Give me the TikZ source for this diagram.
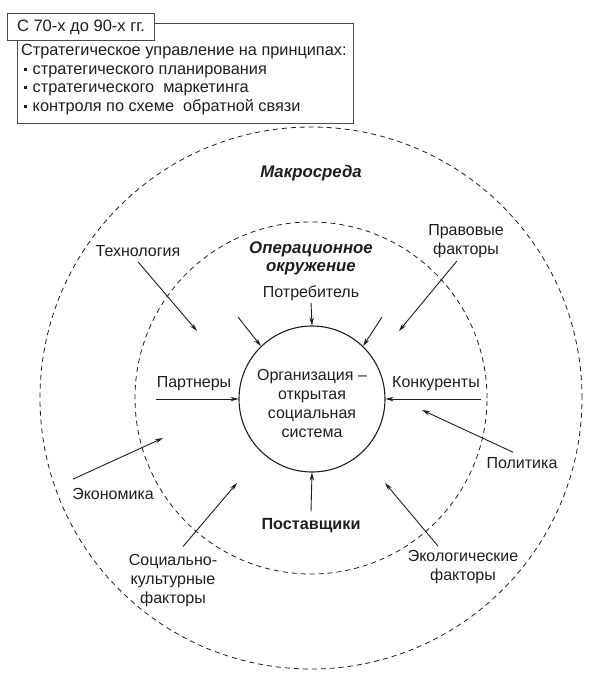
\documentclass[tikz,border=0pt]{standalone}
\usepackage{fontspec}
\setmainfont{Liberation Sans}
\usetikzlibrary{arrows.meta}
\definecolor{ink}{HTML}{1E1E1E}
\definecolor{rim}{HTML}{4A4A4A}
\newcommand\bul{\hspace*{2.5pt}\rule[3.5pt]{3pt}{3pt}\hspace{6pt}}

\begin{document}
\begin{tikzpicture}[
  x=1pt,y=-1pt,
  lbl/.style={font=\fontsize{16}{19}\selectfont,text=ink,align=center,inner sep=1pt},
  head/.style={lbl,font=\fontsize{16.8}{18}\selectfont\bfseries\itshape},
  ring/.style={circle,draw=ink,dash pattern=on 5pt off 4pt,line width=0.8pt,inner sep=0pt},
  core/.style={circle,draw=ink,line width=1.1pt,minimum size=146pt,inner sep=0pt,align=center,text=ink,font=\fontsize{16}{19}\selectfont},
  frame/.style={draw=rim,line width=1pt,inner sep=0pt},
  arr/.style={-{Stealth[length=8pt,width=4.5pt]},line width=0.9pt,ink}
]
  \useasboundingbox (0,0) rectangle (590,678);
  \node[frame,anchor=north west,minimum width=336pt,minimum height=100pt] (box) at (17,23) {};
  \node[anchor=north west,align=left,inner sep=0pt,text=ink,font=\fontsize{16.3}{18.6}\selectfont] (princ) at ([xshift=4pt,yshift=-21pt]box.north west)
    {Стратегическое управление на принципах:\\
     \bul стратегического планирования\\
     \bul стратегического\ \ маркетинга\\
     \bul контроля по схеме\ \ обратной связи};
  \node[frame,fill=white,anchor=north west,minimum width=147pt,minimum height=27pt,text=ink,font=\fontsize{16.5}{18}\selectfont] (period) at (7,13) {С 70-х до 90-х гг.};

  \node[ring,minimum size=542pt] (macro-ring) at (311,398) {};
  \node[ring,minimum size=352pt] (oper-ring) at (311,398) {};
  \node[core] (org) at (312,399) {\rule{0pt}{20pt}Организация --\\открытая\\социальная\\система};

  \node[head] (macro) at (311,173) {Макросреда};
  \node[head] (oper) at (311,258) {Операционное\\окружение};
  \node[lbl] (potr) at (311,293) {Потребитель};
  \node[lbl] (partn) at (194,384) {Партнеры};
  \node[lbl] (konk) at (436,384) {Конкуренты};
  \node[lbl,font=\fontsize{16.2}{19}\selectfont\bfseries] (post) at (311,526) {Поставщики};
  \node[lbl] (tech) at (138,251) {Технология};
  \node[lbl] (prav) at (466,241) {Правовые\\факторы};
  \node[lbl] (polit) at (522,463) {Политика};
  \node[lbl] (econ) at (113,494) {Экономика};
  \node[lbl] (soc) at (173,581) {Социально-\\культурные\\факторы};
  \node[lbl] (ekol) at (463,567) {Экологические\\факторы};

  \coordinate (tech-tip) at (197,331);
  \coordinate (prav-tip) at (399,331);
  \coordinate (polit-tip) at (422,410);
  \coordinate (econ-tip) at (163,438);
  \coordinate (soc-tip) at (237,483);
  \coordinate (ekol-tip) at (385,483);
  \coordinate (nw-tail) at (238,317);
  \coordinate (ne-tail) at (382,317);

  \draw[arr] ([yshift=-1pt]potr.south) -- (org.north);
  \draw[arr] ([yshift=6pt]post.north) -- (org.south);
  \draw[arr] (partn.south west |- org.west) -- (org.west);
  \draw[arr] (konk.south east |- org.east) -- (org.east);
  \draw[arr] (nw-tail) -- (org.134);
  \draw[arr] (ne-tail) -- (org.46);
  \draw[arr] ([yshift=-4pt]tech.south) -- (tech-tip);
  \draw[arr] ([xshift=-9pt,yshift=-2pt]prav.south) -- (prav-tip);
  \draw[arr] ([xshift=-9pt,yshift=4pt]polit.north) -- (polit-tip);
  \draw[arr] ([xshift=2pt,yshift=8pt]econ.north west) -- (econ-tip);
  \draw[arr] ([xshift=10pt,yshift=7pt]soc.north) -- (soc-tip);
  \draw[arr] ([xshift=-25pt,yshift=3pt]ekol.north) -- (ekol-tip);
\end{tikzpicture}
\end{document}
